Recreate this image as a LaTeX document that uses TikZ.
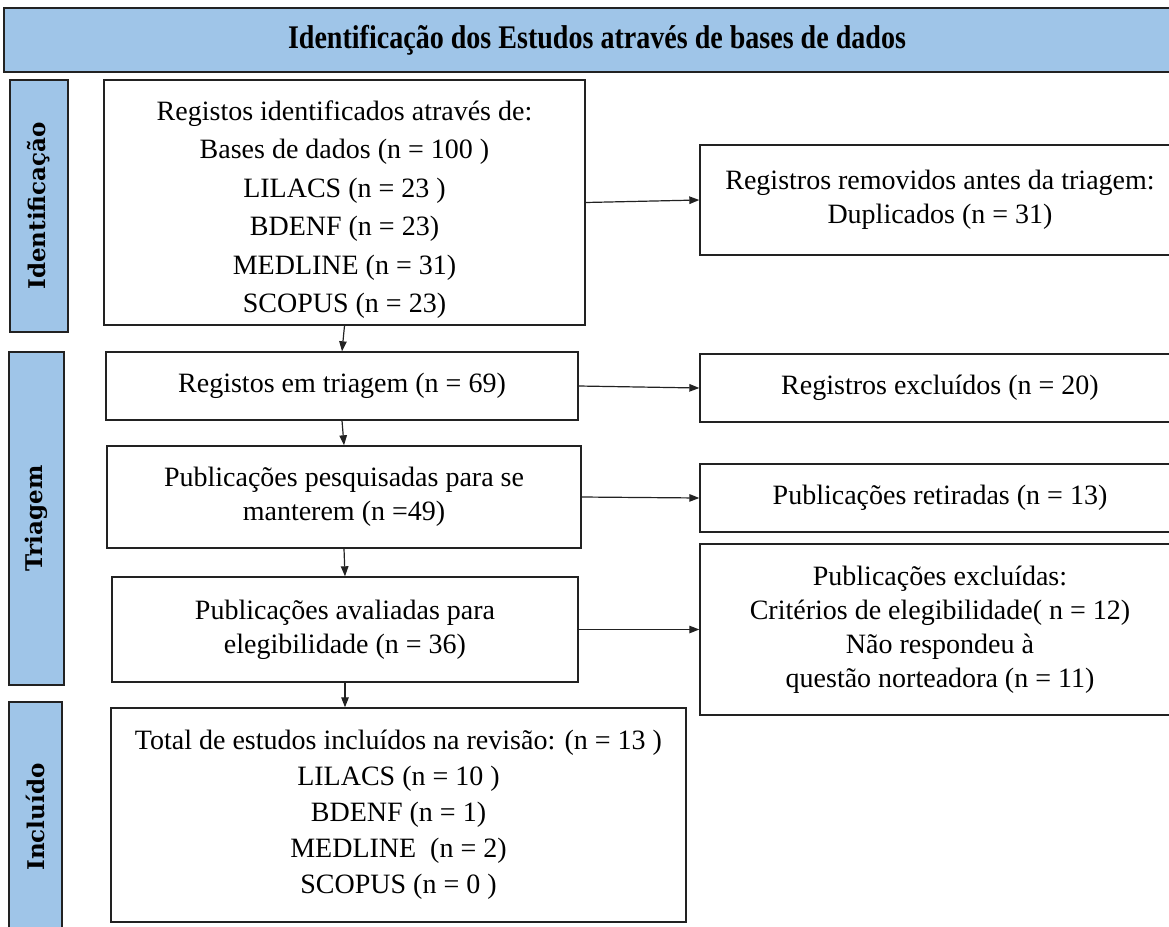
\documentclass[tikz,border=0pt]{standalone}
\usepackage{fontspec}
\setmainfont{Liberation Serif}
\newfontfamily\sidefont{DejaVu Serif}
\usetikzlibrary{arrows.meta}
\definecolor{hdrblue}{HTML}{9FC5E8}
\definecolor{edge}{HTML}{222222}
\tikzset{
  box/.style={draw=edge, line width=1.4pt, fill=white, align=center, inner sep=0pt,
    font=\fontsize{28}{34}\selectfont},
  sidebox/.style={draw=edge, line width=1.4pt, fill=hdrblue, inner sep=0pt},
  sidetext/.style={rotate=90, inner sep=0pt, font=\sidefont\bfseries\fontsize{23}{26}\selectfont},
  arr/.style={draw=edge, line width=1.2pt, -{Triangle[length=10pt,width=7.5pt]}}
}
\begin{document}
\begin{tikzpicture}[x=1pt,y=-1pt]
\useasboundingbox (0,0) rectangle (1169,926);
% header
\node[sidebox, minimum width=1186pt, minimum height=64pt] (hdr) at (597,40) {};
\node[inner sep=0pt, font=\bfseries\fontsize{33}{38}\selectfont] (hdrtext) at (hdr.center)
  {\scalebox{0.85}[1]{Identificação dos Estudos através de bases de dados}};
% side labels
\node[sidebox, minimum width=58pt, minimum height=252pt] (s1) at (39,206) {};
\node[sidetext] (s1t) at (s1.center) {Identificação};
\node[sidebox, minimum width=55pt, minimum height=333pt] (s2) at (36.5,518.5) {};
\node[sidetext] (s2t) at (s2.center) {Triagem};
\node[sidebox, minimum width=53pt, minimum height=230pt] (s3) at (35.5,817) {};
\node[sidetext] (s3t) at (s3.center) {Incluído};
% main column
\node[box, minimum width=481pt, minimum height=245pt] (b1) at (344.5,202.5) {};
\node[align=center, inner sep=0pt, font=\fontsize{28}{38.5}\selectfont] (b1t) at ([yshift=-7pt]b1.center)
  {Registos identificados através de:\\ Bases de dados (n = 100 )\\ LILACS (n = 23 )\\ BDENF (n = 23)\\ MEDLINE (n = 31)\\ SCOPUS (n = 23)};
\node[box, minimum width=472pt, minimum height=68pt] (b2) at (342,386) {Registos em triagem (n = 69)};
\node[box, minimum width=474pt, minimum height=102pt] (b3) at (344,497) {Publicações pesquisadas para se\\ manterem (n =49)};
\node[box, minimum width=466pt, minimum height=105pt] (b4) at (345,629.5) {Publicações avaliadas para\\ elegibilidade (n = 36)};
\node[box, minimum width=575pt, minimum height=214pt, font=\fontsize{28}{36}\selectfont] (b5) at (398.5,815)
  {Total de estudos incluídos na revisão: (n = 13 )\\ LILACS (n = 10 )\\ BDENF (n = 1)\\ MEDLINE\ \ (n = 2)\\ SCOPUS (n = 0 )};
% right column
\node[box, minimum width=480pt, minimum height=110pt] (r1) at (940,200) {Registros removidos antes da triagem:\\ Duplicados (n = 31)};
\node[box, minimum width=480pt, minimum height=68pt] (r2) at (940,388) {Registros excluídos (n = 20)};
\node[box, minimum width=480pt, minimum height=68pt] (r3) at (940,498) {Publicações retiradas (n = 13)};
\node[box, minimum width=480pt, minimum height=171pt] (r4) at (940,629.5) {Publicações excluídas:\\ Critérios de elegibilidade( n = 12)\\ Não respondeu à\\ questão norteadora (n = 11)};
% arrows
\draw[arr] (b1.south) -- (b2.north);
\draw[arr] (b2.south) -- (b3.north);
\draw[arr] (b3.south) -- (b4.north);
\draw[arr] (b4.south) -- (b4.south |- b5.north);
\draw[arr] (b1.east) -- (r1.west);
\draw[arr] (b2.east) -- (r2.west);
\draw[arr] (b3.east) -- (r3.west);
\draw[arr] (b4.east) -- (r4.west);
\end{tikzpicture}
\end{document}
